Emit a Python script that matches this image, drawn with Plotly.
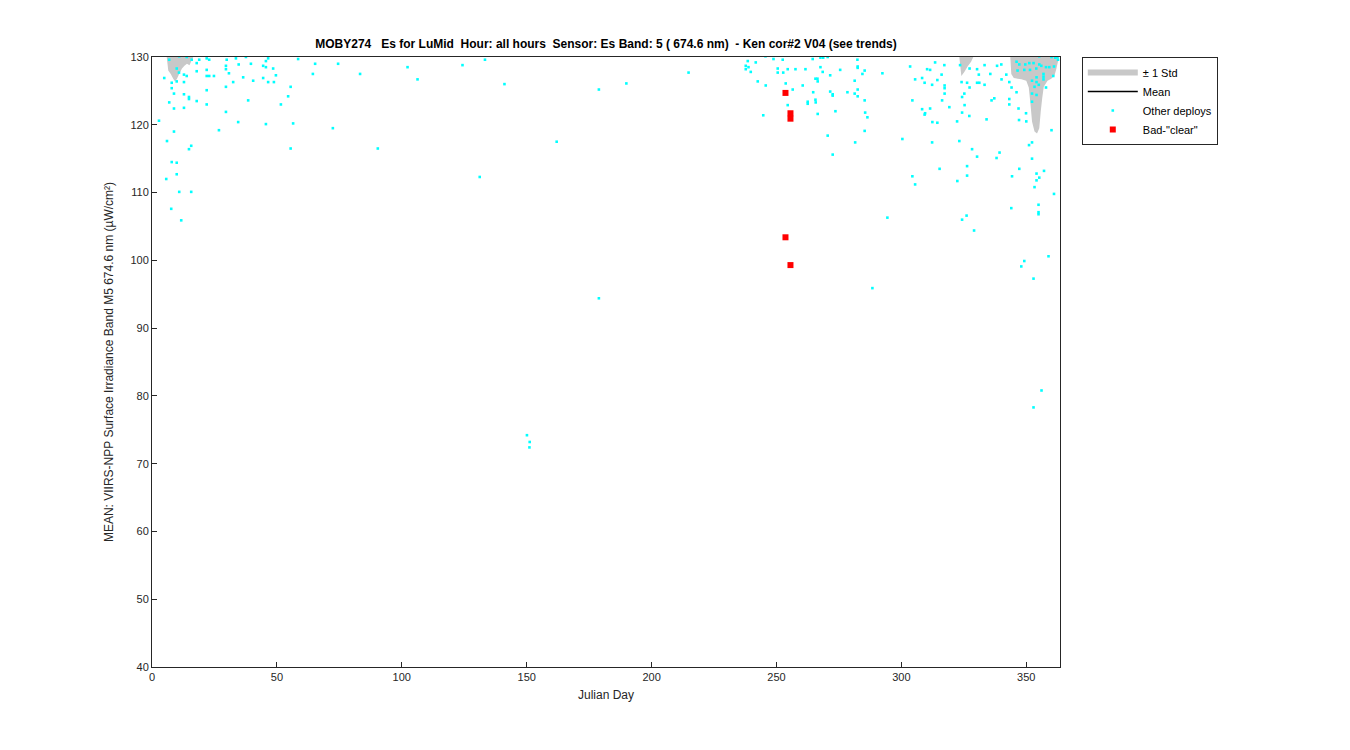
import plotly.graph_objects as go

# ---- Data ----
other_day = [
    10.9, 13.9, 15.9, 18.9, 21.9, 22.9, 29.9, 33.6, 37.6, 46.5, 45.6, 58.5, 65.3, 74.5, 102.3, 106.3,
    17.9, 21.9, 29.6, 29.6, 34.7, 39.6, 44.5, 45.6, 48.5, 9.9, 12.8, 13.9, 17.9, 21.9, 22.9, 24.8,
    30.8, 36.5, 40.5, 44.5, 46.5, 48.8, 49.6, 64.4, 83.3, 4.9, 7.9, 9.9, 12.8, 10.8, 7.9, 8.8, 12.8,
    14.8, 14.8, 17.9, 6.9, 8.8, 12.8, 21.9, 21.9, 29.6, 32.5, 55.5, 54.5, 38.5, 51.6, 29.6, 2.8,
    34.5, 45.6, 56.5, 72.4, 8.8, 26.8, 6.0, 14.8, 15.7, 55.5, 90.4, 7.9, 9.9, 9.9, 5.7, 10.9, 15.7,
    6.9, 7.7, 11.7,
    124.3, 133.3, 141.1, 178.9, 189.9, 214.8, 162.0, 131.2, 178.9, 150.1, 151.2, 151.1,
    245.6, 238.5, 237.7, 238.8, 237.7, 239.7, 241.7, 248.8, 252.5, 250.5, 250.5, 252.7, 254.5,
    257.6, 261.6, 264.5, 267.6, 268.7, 270.5, 267.6, 268.5, 271.5, 275.5, 282.4, 282.5, 282.5,
    285.3, 284.4, 292.4, 242.5, 245.7, 253.7, 260.5, 256.5, 265.6, 266.4, 266.5, 264.7, 271.5,
    272.5, 272.5, 278.4, 281.3, 281.3, 282.5, 282.5, 285.3, 254.5, 262.5, 262.5, 265.6, 265.7,
    244.7, 266.5, 273.6, 285.5, 286.4, 285.3, 270.5, 281.5, 272.5,
    303.5, 313.5, 317.2, 310.3, 311.5, 316.1, 305.5, 308.3, 309.3, 312.3, 314.4, 317.3, 317.3,
    317.3, 316.3, 304.4, 319.2, 308.3, 311.5, 309.5, 309.3, 312.4, 314.4, 300.4, 312.3, 304.4,
    305.5, 323.5, 327.3, 330.3, 333.3, 331.0, 335.6, 338.3, 340.0, 342.0, 340.1, 324.1, 326.3,
    327.3, 330.3, 331.2, 333.3, 343.2, 344.1, 346.1, 325.2, 324.3, 325.3, 324.3, 327.2, 336.1,
    337.2, 343.2, 343.2, 346.9, 349.9, 347.1, 350.0, 334.1, 322.3, 323.2, 328.3, 330.3, 339.3,
    338.1, 326.3, 315.3, 326.3, 322.4, 347.2, 344.3, 352.3, 351.1, 352.3, 357.1, 354.1, 355.2,
    354.1, 353.3, 360.1, 361.1,
    346.1, 347.2, 349.6, 351.2, 352.9, 355.2, 355.2, 356.0, 360.1, 361.6, 362.4, 362.7, 361.1,
    359.2, 357.9, 354.0, 351.5, 349.2, 346.5, 356.9, 356.9, 356.9, 354.1, 354.1, 352.3, 355.0,
    352.3, 354.1, 352.3, 353.3, 357.9, 360.8,
    354.9, 344.0, 354.9, 354.9, 294.4, 326.1, 324.3, 329.1, 358.9, 349.2, 348.0, 352.9, 288.4,
    356.1, 352.9,
]
other_val = [
    130.1, 130.0, 129.6, 129.6, 129.8, 129.6, 129.6, 129.8, 130.0, 129.8, 129.4, 129.7, 129.0, 129.0, 128.5, 126.7,
    129.1, 128.1, 128.7, 128.2, 128.9, 129.0, 128.7, 128.5, 128.3, 128.3, 127.4, 127.2, 127.9, 127.2, 127.2, 127.2,
    127.6, 127.0, 126.5, 126.9, 126.3, 126.3, 127.3, 127.5, 127.5, 126.9, 126.2, 126.4, 126.3, 127.7, 125.4, 124.6, 124.5,
    124.1, 123.8, 123.5, 123.3, 122.4, 122.5, 125.1, 123.0, 125.6, 126.3, 125.6, 124.2, 123.6, 123.0, 121.9, 120.6,
    120.4, 120.1, 120.2, 119.5, 119.0, 119.2, 117.6, 116.4, 116.9, 116.5, 116.5, 114.5, 114.4, 112.7, 112.0, 110.1, 110.1,
    129.6, 107.6, 105.9,
    128.8, 129.6, 126.0, 125.2, 126.1, 127.7, 117.5, 112.3, 94.4, 74.2, 73.2, 72.4,
    130.1, 129.4, 128.7, 128.5, 128.2, 127.8, 129.2, 129.7, 129.6, 128.3, 127.7, 127.7, 128.2,
    128.2, 128.2, 129.7, 129.9, 129.9, 130.0, 128.5, 127.8, 127.3, 128.1, 129.6, 128.6, 128.4,
    128.0, 127.5, 127.6, 126.4, 125.8, 126.1, 125.8, 125.2, 126.8, 126.8, 126.4, 124.8, 124.9,
    124.5, 124.3, 124.8, 126.5, 124.6, 125.2, 124.2, 123.6, 122.9, 123.4, 123.1, 123.7, 123.3,
    121.4, 121.6, 122.0, 121.8, 121.1, 119.1, 118.4, 117.4, 115.6,
    128.6, 129.2, 128.8, 128.2, 128.1, 127.4, 126.7, 126.9, 126.2, 125.9, 126.6, 125.8, 125.4,
    124.6, 123.6, 123.6, 122.6, 122.3, 122.4, 121.7, 121.5, 120.4, 120.3, 117.9, 117.4, 112.4,
    111.2, 128.8, 128.3, 128.2, 128.8, 127.4, 127.5, 128.7, 128.9, 127.4, 126.7, 126.3, 126.2,
    125.5, 126.2, 126.2, 125.9, 126.3, 125.5, 124.8, 124.6, 124.1, 122.9, 121.8, 121.3, 123.6,
    123.9, 123.8, 123.0, 122.4, 121.7, 120.7, 120.5, 120.8, 120.5, 117.6, 116.4, 115.3, 115.9,
    115.1, 113.9, 113.5, 112.5, 111.7, 113.5, 112.4, 117.4, 117.0, 115.0, 113.2, 112.8, 112.2,
    111.8, 110.8, 119.2, 109.8,
    129.3, 128.9, 128.9, 129.1, 129.1, 130.1, 128.9, 128.7, 130.0, 129.9, 130.0, 129.6, 128.6,
    128.5, 128.5, 128.3, 128.1, 128.1, 128.0, 127.5, 127.1, 126.7, 127.0, 126.3, 126.5, 125.9,
    124.6, 124.4, 123.4, 125.6, 125.5, 127.2,
    108.2, 107.7, 107.1, 106.8, 106.3, 106.6, 106.0, 104.4, 100.6, 99.9, 99.1, 97.3, 95.9,
    80.8, 78.3,
]

bad_day = [253.6, 255.6, 255.6, 253.6, 255.6]
bad_val = [124.7, 121.7, 120.9, 103.4, 99.3]

# +/- 1 std band: lower edge (upper edge lies above the axis limit)
std_day_a = [5.9, 6.5, 7.5, 8.5, 9.2, 10.0, 11.0, 12.0, 13.0, 14.0, 15.0, 16.0, 16.5]
std_low_a = [130.0, 128.0, 127.5, 126.8, 126.4, 126.8, 127.6, 128.3, 128.7, 129.0, 128.8, 129.6, 130.0]
std_day_b = [323.2, 324.0, 325.2, 326.5, 327.9, 328.8]
std_low_b = [130.0, 127.2, 127.8, 128.6, 129.3, 130.0]
std_day_c = [343.6, 344.0, 345.0, 348.0, 350.0, 351.0, 351.7, 352.3, 353.3, 354.3, 355.2, 355.8,
             356.4, 357.0, 358.5, 360.0, 361.3, 362.0, 362.6, 363.2]
std_low_c = [130.0, 127.5, 126.9, 126.7, 126.5, 125.5, 123.0, 120.5, 119.0, 118.7, 119.5, 122.0,
             124.0, 125.6, 126.5, 126.8, 127.3, 128.2, 129.2, 130.0]
std_top = 135.0

x_ticks = [0, 50, 100, 150, 200, 250, 300, 350]
y_ticks = [40, 50, 60, 70, 80, 90, 100, 110, 120, 130]

# ---- Build band polygons ----
band_x, band_y = [], []
for d, lo in [(std_day_a, std_low_a), (std_day_b, std_low_b), (std_day_c, std_low_c)]:
    band_x += d + d[::-1] + [None]
    band_y += lo + [std_top] * len(d) + [None]

FONT = "Liberation Sans, Arial, Helvetica, sans-serif"
OFF = 8  # page body margin
fig = go.Figure()
fig.add_trace(go.Scatter(x=band_x, y=band_y, fill="toself", mode="none",
                         fillcolor="#c8c8c8", name="\u00b1 1 Std", hoverinfo="skip"))
fig.add_trace(go.Scatter(x=[None], y=[None], mode="lines", line=dict(color="black", width=1.5),
                         name="Mean"))
fig.add_trace(go.Scatter(x=other_day, y=other_val, mode="markers", name="Other deploys",
                         marker=dict(color="#00ffff", size=2.6, symbol="square", line=dict(width=0))))
fig.add_trace(go.Scatter(x=bad_day, y=bad_val, mode="markers", name='Bad-"clear"',
                         marker=dict(color="#ff0000", size=6, symbol="square", line=dict(width=0))))

axis_common = dict(showline=True, mirror=True, linecolor="#262626", linewidth=1,
                   ticks="inside", ticklen=5, tickcolor="#262626", showgrid=False, zeroline=False,
                   tickfont=dict(family=FONT, size=11, color="#262626"))
fig.update_xaxes(range=[0, 363.5], tickvals=x_ticks, title=dict(text="Julian Day",
                 font=dict(family=FONT, size=12, color="#262626"), standoff=8), **axis_common)
fig.update_yaxes(range=[40, 130], tickvals=y_ticks,
                 title=dict(text="MEAN: VIIRS-NPP Surface Irradiance Band M5 674.6 nm (\u00b5W/cm\u00b2)",
                            font=dict(family=FONT, size=12, color="#262626"), standoff=14), **axis_common)

fig.update_layout(
    width=1350, height=750,
    margin=dict(l=152 - OFF, r=1350 - 1060 + OFF, t=57 - OFF, b=83 + OFF),
    paper_bgcolor="white", plot_bgcolor="white",
    title=dict(text="<b>MOBY274   Es for LuMid  Hour: all hours  Sensor: Es Band: 5 ( 674.6 nm)  - Ken cor#2 V04 (see trends)</b>",
               x=((152 + 1060) / 2 - OFF) / 1350, xanchor="center", y=1 - (44 - OFF) / 750, yanchor="middle",
               font=dict(family=FONT, size=12, color="black")),
    legend=dict(x=1.024, y=1.0, xanchor="left", yanchor="top", bordercolor="#262626", borderwidth=1,
                bgcolor="white", font=dict(family=FONT, size=11, color="black"),
                itemwidth=50, tracegroupgap=0),
    showlegend=True,
)

fig.write_html("out.html")
